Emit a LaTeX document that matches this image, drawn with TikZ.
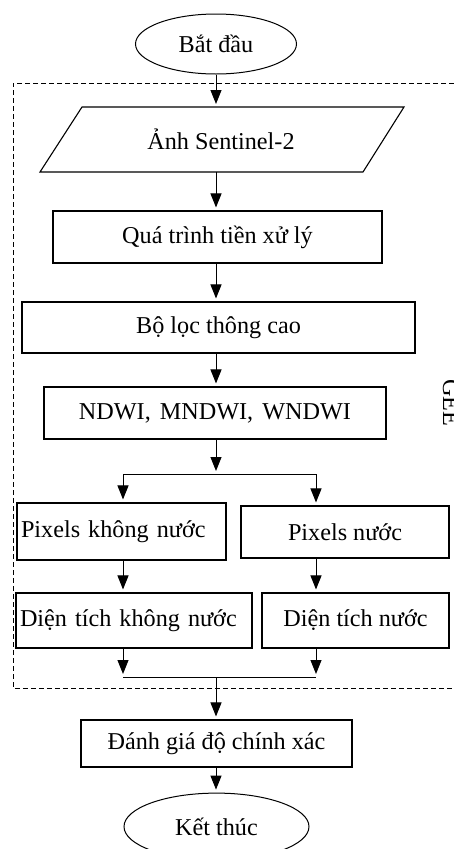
\documentclass[tikz,border=0pt]{standalone}
\usepackage{fontspec}
\setmainfont{Liberation Serif}
\usetikzlibrary{arrows.meta,shapes.geometric}
\begin{document}
\begin{tikzpicture}[x=1pt,y=-1pt,
  txt/.style={font=\fontsize{24.2}{29}\selectfont},
  box/.style={txt,draw,line width=1.1pt,rectangle,inner sep=0pt},
  lbox/.style={box,inner xsep=4pt,align=left},
  term/.style={txt,draw,ellipse,line width=1pt,inner sep=0pt},
  arr/.style={-{Triangle[width=11pt,length=14pt]},line width=1pt,shorten >=3pt},
  ln/.style={line width=1pt},
  frame/.style={line width=0.9pt,dash pattern=on 5pt off 3pt}]
\clip (0,0) rectangle (454,849);
\fill[white] (0,0) rectangle (454,849);
% frame
\draw[frame] (470,83) -- (13,83) -- (13,688) -- (470,688);
\node[txt,rotate=-90,anchor=base] (gee) at (443,403) {GEE};
% nodes
\coordinate (col) at (216,0);
\node[term,minimum width=161pt,minimum height=60pt] (start) at (216,44) {Bắt đầu};
\node[txt] (img) at (221,139.5) {Ảnh Sentinel-2};
\coordinate (p1) at (82,107);
\coordinate (p2) at (404,107);
\coordinate (p3) at (363,172);
\coordinate (p4) at (40,172);
\draw[line width=1.1pt] (p1) -- (p2) -- (p3) -- (p4) -- cycle;
\node[box,minimum width=329pt,minimum height=52pt] (pre) at (217.5,237) {Quá trình tiền xử lý};
\node[box,minimum width=393pt,minimum height=51pt] (hp) at (218.5,327.5) {Bộ lọc thông cao};
\node[box,minimum width=342pt,minimum height=52pt] (idx) at (215,413) {NDWI,\hspace{3pt} MNDWI,\hspace{3pt} WNDWI};
\coordinate (fork) at (216,474);
\coordinate (L) at (123,474);
\coordinate (R) at (316,474);
\node[lbox,text width=201pt,minimum height=57pt] (pxn) at (121.5,531.5) {Pixels không nước};
\node[box,minimum width=208pt,minimum height=52pt] (pw) at (345,532) {Pixels nước};
\node[lbox,text width=228pt,minimum height=55pt] (dtn) at (134,620.5) {Diện tích không nước};
\node[box,minimum width=187pt,minimum height=55pt] (dw) at (355.5,620.5) {Diện tích nước};
\coordinate (ML) at (123,677);
\coordinate (MR) at (316,677);
\coordinate (M) at (216,677);
\node[box,minimum width=271pt,minimum height=47pt] (eval) at (216.5,743.5) {Đánh giá độ chính xác};
\node[term,minimum width=185pt,minimum height=67pt] (end) at (216.5,826.6) {Kết thúc};
% connectors
\draw[arr] (start.south) -- (col |- p1);
\draw[arr] (col |- p4) -- (col |- pre.north);
\draw[arr] (col |- pre.south) -- (col |- hp.north);
\draw[arr] (col |- hp.south) -- (col |- idx.north);
\draw[arr] (col |- idx.south) -- (fork);
\draw[ln] (L) -- (R);
\draw[arr] (L) -- (L |- pxn.north);
\draw[arr] (R) -- (R |- pw.north);
\draw[arr] (L |- pxn.south) -- (L |- dtn.north);
\draw[arr] (R |- pw.south) -- (R |- dw.north);
\draw[arr] (L |- dtn.south) -- (ML);
\draw[arr] (R |- dw.south) -- (MR);
\draw[ln] (ML) -- (MR);
\draw[arr] (M) -- (M |- eval.north);
\draw[arr] (M |- eval.south) -- (M |- end.north);
\end{tikzpicture}
\end{document}
